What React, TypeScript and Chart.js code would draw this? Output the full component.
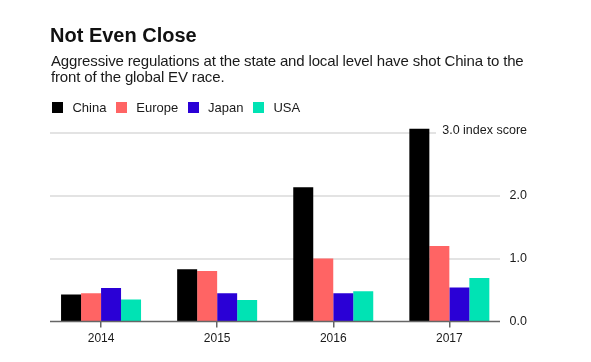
import React, { useEffect, useRef } from "react";
import { Chart, registerables } from "chart.js";

Chart.register(...registerables);

const title = "Not Even Close";
const subtitleLines = [
  "Aggressive regulations at the state and local level have shot China to the",
  "front of the global EV race.",
];
const years = ["2014", "2015", "2016", "2017"];
const seriesNames = ["China", "Europe", "Japan", "USA"];
const seriesColors = ["#000000", "#ff6464", "#2a00d6", "#00e3b4"];
const china = [0.43, 0.83, 2.13, 3.06];
const europe = [0.45, 0.8, 1.0, 1.2];
const japan = [0.53, 0.45, 0.45, 0.54];
const usa = [0.35, 0.34, 0.48, 0.69];
const yTicks = [0, 1, 2, 3];
const yTopSuffix = " index score";
const FONT = "'Liberation Sans', Arial, Helvetica, sans-serif";

const seriesValues = [china, europe, japan, usa];

const gridPlugin = {
  id: "customGrid",
  beforeDatasetsDraw(chart: any) {
    const ctx = chart.ctx;
    const y = chart.scales.y;
    ctx.save();
    ctx.strokeStyle = "#e3e3e3";
    ctx.lineWidth = 2;
    yTicks.forEach((t, i) => {
      if (t === 0) return;
      const py = Math.round(y.getPixelForValue(t));
      const last = i === yTicks.length - 1;
      ctx.beginPath();
      ctx.moveTo(50, py);
      ctx.lineTo(last ? 436 : 500, py);
      ctx.stroke();
    });
    ctx.restore();
  },
  afterDatasetsDraw(chart: any) {
    const ctx = chart.ctx;
    const y = chart.scales.y;
    ctx.save();
    const p0 = y.getPixelForValue(0);
    ctx.strokeStyle = "#666666";
    ctx.lineWidth = 1.5;
    ctx.beginPath();
    ctx.moveTo(50, p0);
    ctx.lineTo(500, p0);
    ctx.stroke();
    ctx.fillStyle = "#1a1a1a";
    ctx.font = `12.5px ${FONT}`;
    ctx.textAlign = "right";
    ctx.textBaseline = "middle";
    yTicks.forEach((t, i) => {
      const py = y.getPixelForValue(t);
      const last = i === yTicks.length - 1;
      const label = t.toFixed(1) + (last ? yTopSuffix : "");
      ctx.fillText(label, 527, last ? py - 2 : py);
    });
    ctx.restore();
  },
};

export default function App() {
  const ref = useRef<HTMLCanvasElement | null>(null);

  useEffect(() => {
    if (!ref.current) return;
    const chart = new Chart(ref.current, {
      type: "bar",
      data: {
        labels: years,
        datasets: seriesNames.map((name, i) => ({
          label: name,
          data: seriesValues[i],
          backgroundColor: seriesColors[i],
          borderWidth: 0,
          categoryPercentage: 0.689,
          barPercentage: 1.0,
        })),
      },
      options: {
        animation: false,
        responsive: false,
        devicePixelRatio: 1,
        layout: { padding: { left: 43, right: 83.6, top: 126.2, bottom: 0 } },
        plugins: {
          legend: { display: false },
          title: { display: false },
          tooltip: { enabled: false },
        },
        scales: {
          x: {
            type: "category",
            offset: true,
            border: { display: false },
            grid: {
              display: true,
              drawOnChartArea: false,
              drawTicks: true,
              tickLength: 6,
              offset: false,
              color: "#666666",
              lineWidth: 1.5,
            },
            ticks: {
              color: "#1a1a1a",
              font: { family: FONT, size: 12 },
              padding: 4,
              maxRotation: 0,
            },
            afterFit: (scale: any) => {
              scale.height = 40.5;
            },
          },
          y: {
            display: false,
            min: 0,
            max: 3.1,
          },
        },
      },
      plugins: [gridPlugin],
    } as any);
    return () => chart.destroy();
  }, []);

  return (
    <div
      style={{
        position: "absolute",
        left: 0,
        top: 0,
        width: 591,
        height: 362,
        background: "#fff",
        fontFamily: FONT,
        color: "#111",
        overflow: "hidden",
      }}
    >
      <canvas
        ref={ref}
        width={591}
        height={362}
        style={{ position: "absolute", left: 0, top: 0, width: 591, height: 362 }}
      />
      <div
        style={{
          position: "absolute",
          left: 50,
          top: 25.4,
          fontSize: 20,
          lineHeight: "20px",
          fontWeight: 700,
          whiteSpace: "nowrap",
        }}
      >
        {title}
      </div>
      <div
        style={{
          position: "absolute",
          left: 51,
          top: 52.5,
          fontSize: 15,
          lineHeight: "16px",
          letterSpacing: "-0.15px",
          whiteSpace: "nowrap",
          color: "#1a1a1a",
        }}
      >
        {subtitleLines.map((l, i) => (
          <div key={i}>{l}</div>
        ))}
      </div>
      <div
        style={{
          position: "absolute",
          left: 52,
          top: 100.7,
          display: "flex",
          fontSize: 13,
          lineHeight: "13px",
          whiteSpace: "nowrap",
          color: "#1a1a1a",
        }}
      >
        {seriesNames.map((n, i) => (
          <div key={n} style={{ display: "flex", alignItems: "flex-start", marginRight: 9.5 }}>
            <span
              style={{
                display: "inline-block",
                width: 11,
                height: 11,
                marginTop: 1,
                marginRight: 9.4,
                background: seriesColors[i],
              }}
            />
            <span>{n}</span>
          </div>
        ))}
      </div>
    </div>
  );
}
